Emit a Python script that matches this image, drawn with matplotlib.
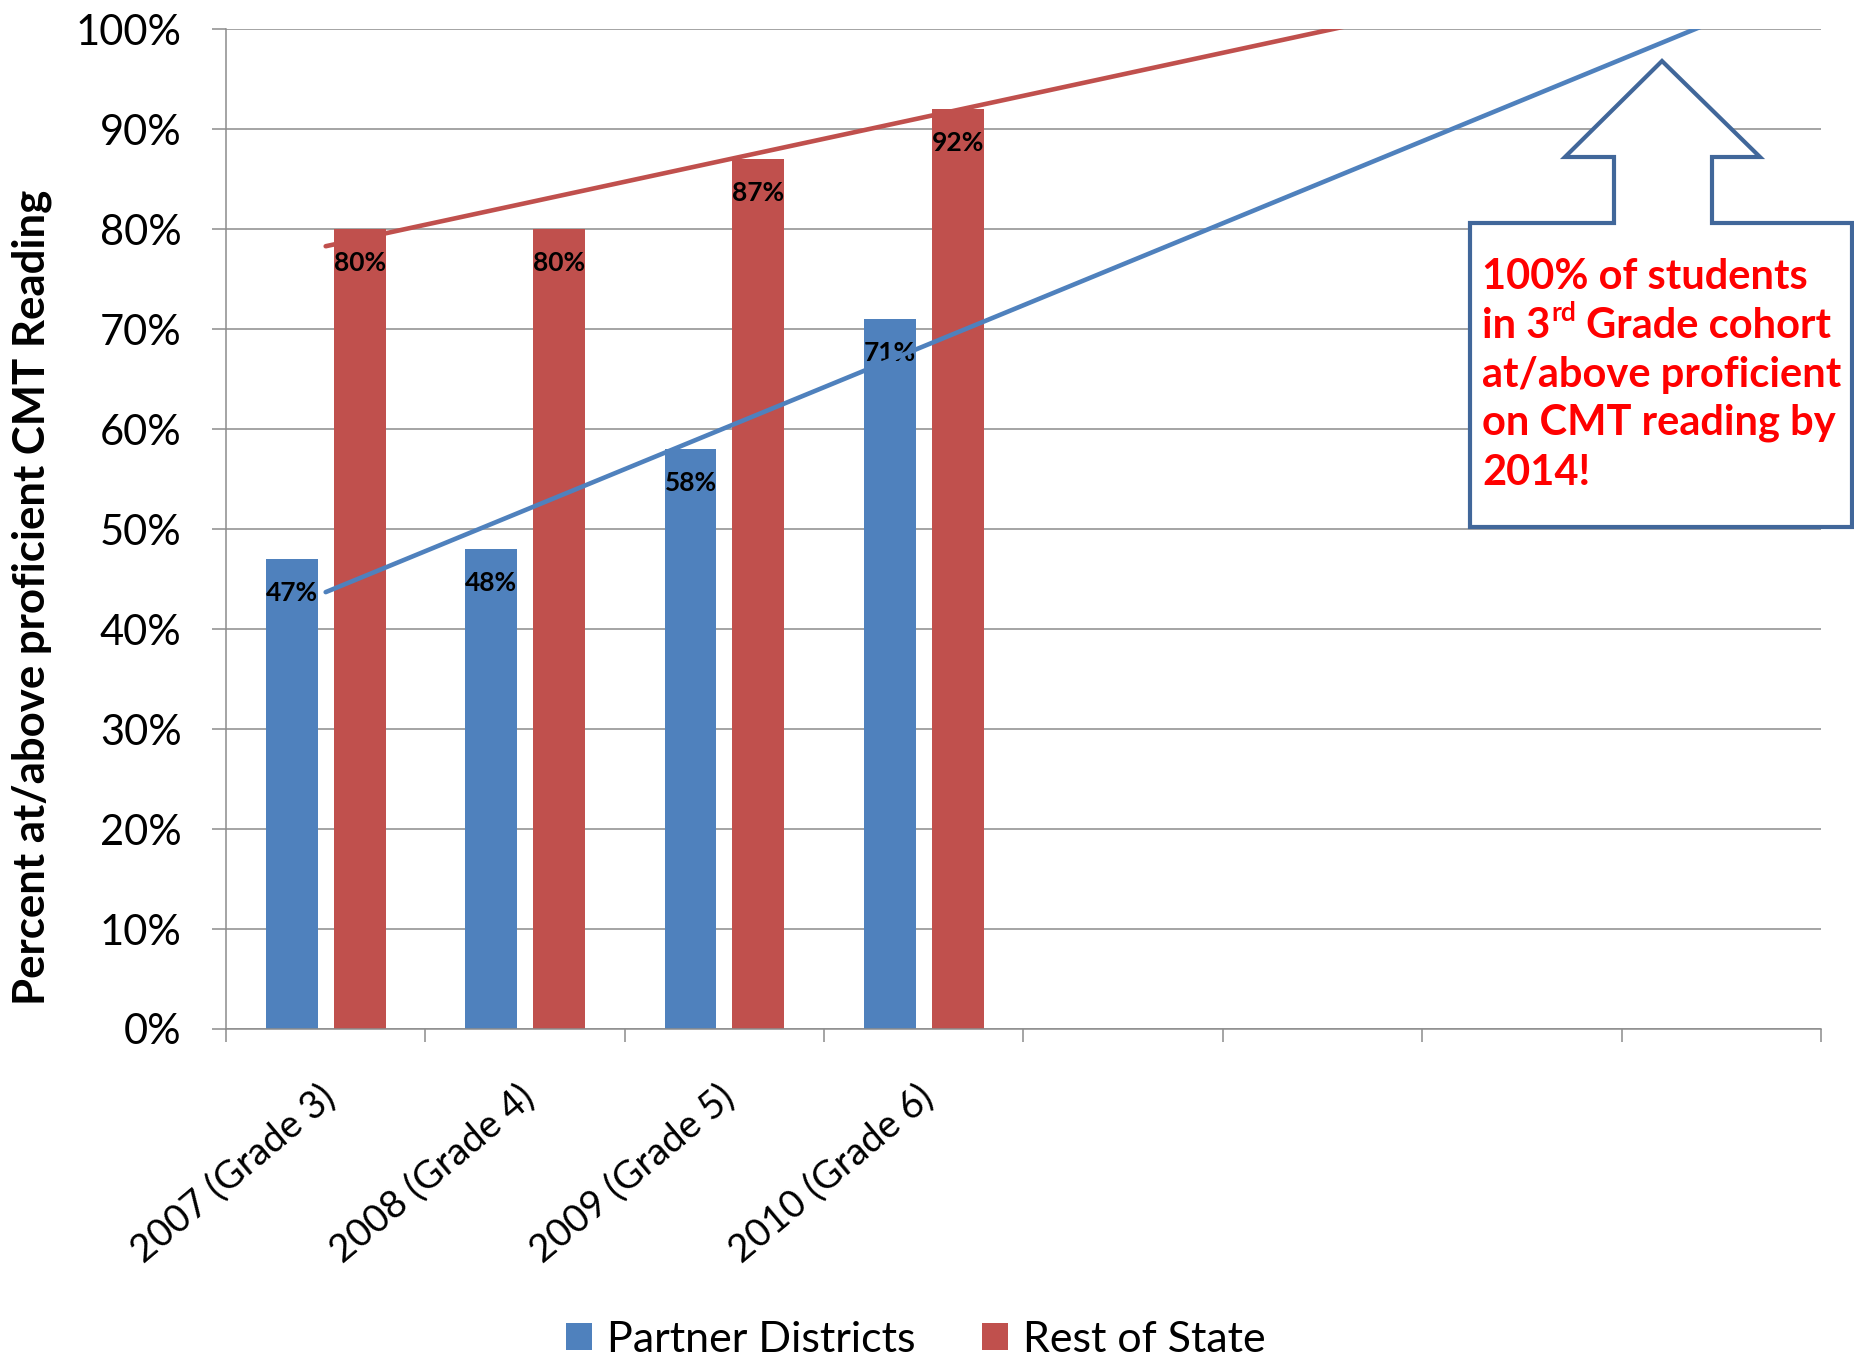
import numpy as np
import matplotlib
matplotlib.use("Agg")
import matplotlib.pyplot as plt
from matplotlib.patches import Polygon
from matplotlib.ticker import FixedLocator, NullFormatter

# ---- data -------------------------------------------------------------
categories = ["2007 (Grade 3)", "2008 (Grade 4)", "2009 (Grade 5)", "2010 (Grade 6)"]
partner_districts = [47, 48, 58, 71]
rest_of_state = [80, 80, 87, 92]
series_names = ["Partner Districts", "Rest of State"]
y_ticks = [0, 10, 20, 30, 40, 50, 60, 70, 80, 90, 100]
n_slots = 8            # category slots on the x axis (room for the projection)
forecast_to = 7        # trend lines are projected forward to this slot
y_label = "Percent at/above proficient CMT Reading"
callout_lines = ["100% of students", ("in 3", "rd", " Grade cohort"),
                 "at/above proficient", "on CMT reading by", "2014!"]

# ---- style ------------------------------------------------------------
BLUE = "#4F81BD"
RED = "#C0504D"
GRID = "#8C8C8C"
OUTLINE = "#41679A"
FONT = "Lato"
plt.rcParams["font.family"] = [FONT, "DejaVu Sans"]

W, H = 1854, 1362
fig = plt.figure(figsize=(W / 100, H / 100), dpi=100)
ax = fig.add_axes([226 / W, 1 - 1029 / H, (1821 - 226) / W, (1029 - 29.3) / H])

x = np.arange(len(categories))
bar_w = 0.26
off = 0.17
ax.bar(x - off, partner_districts, bar_w, color=BLUE, zorder=2, label=series_names[0])
ax.bar(x + off, rest_of_state, bar_w, color=RED, zorder=2, label=series_names[1])

# data labels, inside the top of each bar
for xs, vals in ((x - off, partner_districts), (x + off, rest_of_state)):
    for xi, v in zip(xs, vals):
        ax.annotate(f"{v}%", xy=(xi, v), xytext=(0, -24.5), textcoords="offset points",
                    ha="center", va="center", fontsize=19, fontweight="bold",
                    color="black", zorder=3)

# linear trend lines, projected forward
xf = np.array([0, forecast_to], dtype=float)
for vals, col in ((partner_districts, BLUE), (rest_of_state, RED)):
    k, b = np.polyfit(x, vals, 1)
    ax.plot(xf, k * xf + b, color=col, lw=3.3, zorder=4, solid_capstyle="round")

# axes
ax.set_xlim(-0.5, n_slots - 0.5)
ax.set_ylim(0, 100)
ax.set_yticks(y_ticks)
ax.set_yticklabels([f"{t}%" for t in y_ticks])
ax.tick_params(axis="y", direction="out", length=10, width=1.1, color=GRID,
               labelsize=30, pad=22)
ax.xaxis.set_major_locator(FixedLocator(np.arange(n_slots + 1) - 0.5))
ax.xaxis.set_major_formatter(NullFormatter())
ax.tick_params(axis="x", which="major", direction="out", length=9, width=1.1, color=GRID)

# category labels, slanted under each group
for xi, cat in zip(x, categories):
    ax.annotate(cat, xy=(xi, 0), xycoords=("data", "axes fraction"),
                xytext=(-5, -36), textcoords="offset points", rotation=40,
                rotation_mode="anchor", ha="right", va="top", fontsize=27.5)

ax.yaxis.grid(True, color=GRID, lw=1.1)
ax.set_axisbelow(True)
for s in ("top", "right"):
    ax.spines[s].set_visible(False)
for s in ("left", "bottom"):
    ax.spines[s].set_color(GRID)
    ax.spines[s].set_linewidth(1.1)

fig.text(32 / W, 1 - 597 / H, y_label, rotation=90, ha="center", va="center",
         fontsize=31.5, fontweight="bold")

fig.legend(loc="center", bbox_to_anchor=(916 / W, 1 - 1340 / H), ncol=2, frameon=False,
           fontsize=31, handlelength=0.6, handleheight=0.6, handletextpad=0.35,
           columnspacing=1.55)

# callout: box with an up-arrow pointing at the 100% line
pts = [(1470, 223), (1614, 223), (1614, 157), (1565, 157), (1662, 61), (1760, 157),
       (1712, 157), (1712, 223), (1852, 223), (1852, 527), (1470, 527)]
poly = Polygon([(px / W, 1 - py / H) for px, py in pts], closed=True,
               transform=fig.transFigure, facecolor="white", edgecolor=OUTLINE,
               lw=3, joinstyle="miter", zorder=5)
fig.add_artist(poly)

renderer = fig.canvas.get_renderer()
tx = 1482
baselines = [289, 338, 387, 435, 485]
kw = dict(color="#FF0000", fontweight="bold", va="baseline", ha="left", zorder=6)
for line, by in zip(callout_lines, baselines):
    if isinstance(line, str):
        fig.text(tx / W, 1 - by / H, line, fontsize=30, **kw)
    else:
        main, sup, rest = line
        t1 = fig.text(tx / W, 1 - by / H, main, fontsize=30, **kw)
        x1 = t1.get_window_extent(renderer).x1
        t2 = fig.text((x1 + 1) / W, 1 - (by - 17) / H, sup, fontsize=19, **kw)
        x2 = t2.get_window_extent(renderer).x1
        fig.text(x2 / W, 1 - by / H, rest, fontsize=30, **kw)

fig.savefig("out.png", dpi=100)
